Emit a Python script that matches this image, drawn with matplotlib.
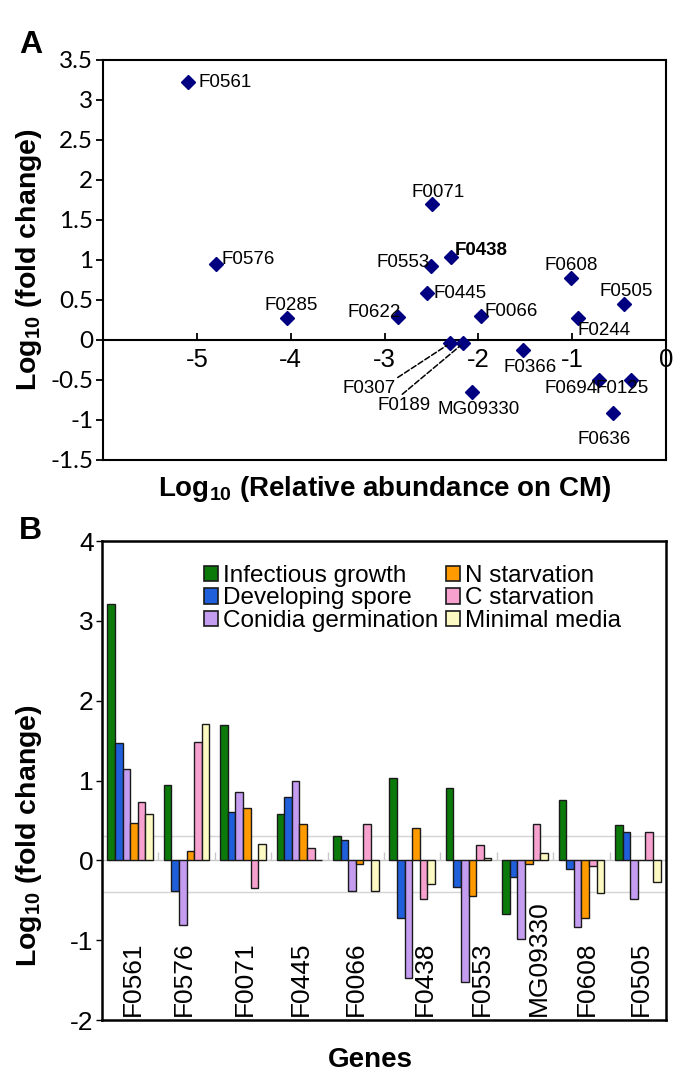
import numpy as np
import matplotlib
matplotlib.use('Agg')
import matplotlib.pyplot as plt
from matplotlib.patches import Patch
from matplotlib.ticker import FuncFormatter

plt.rcParams['font.family'] = ['Liberation Sans', 'DejaVu Sans']
plt.rcParams['axes.unicode_minus'] = False
plt.rcParams['mathtext.fontset'] = 'custom'
plt.rcParams['mathtext.rm'] = 'Liberation Sans'
plt.rcParams['mathtext.bf'] = 'Liberation Sans:bold'
plt.rcParams['mathtext.default'] = 'bf'

# panel A data
scatter_genes = ['F0561', 'F0576', 'F0285', 'F0622', 'F0071', 'F0553', 'F0438', 'F0445', 'F0066',
                 'F0608', 'F0505', 'F0244', 'F0307', 'F0189', 'F0366', 'MG09330', 'F0694', 'F0125', 'F0636']
abundance = [-5.09, -4.80, -4.04, -2.86, -2.49, -2.51, -2.29, -2.55, -1.97,
             -1.01, -0.45, -0.94, -2.30, -2.16, -1.52, -2.07, -0.71, -0.37, -0.56]
fold_change = [3.22, 0.95, 0.28, 0.29, 1.70, 0.93, 1.04, 0.59, 0.30,
               0.77, 0.45, 0.27, -0.04, -0.04, -0.12, -0.65, -0.50, -0.50, -0.91]

# panel B data
genes = ['F0561', 'F0576', 'F0071', 'F0445', 'F0066', 'F0438', 'F0553', 'MG09330', 'F0608', 'F0505']
infectious = [3.21, 0.94, 1.69, 0.58, 0.30, 1.03, 0.91, -0.67, 0.75, 0.44]
developing = [1.47, -0.39, 0.61, 0.79, 0.26, -0.72, -0.34, -0.21, -0.11, 0.36]
conidia = [1.15, -0.81, 0.85, 0.99, -0.39, -1.47, -1.53, -0.98, -0.84, -0.49]
n_starv = [0.47, 0.12, 0.66, 0.46, -0.04, 0.41, -0.45, -0.05, -0.72, 0.0]
c_starv = [0.73, 1.48, -0.35, 0.15, 0.45, -0.48, 0.19, 0.46, -0.07, 0.35]
minimal = [0.58, 1.71, 0.21, 0.0, -0.39, -0.30, 0.03, 0.09, -0.41, -0.27]
ref_lines = [0.3, -0.4]

series = [infectious, developing, conidia, n_starv, c_starv, minimal]
series_names = ['Infectious growth', 'Developing spore', 'Conidia germination',
                'N starvation', 'C starvation', 'Minimal media']
colors = ['#0b7a0b', '#1f5fdc', '#c49cf0', '#ff9a00', '#f7a1cf', '#fdf9c2']

# label offsets (pixels) for panel A
offsets = {'F0561': (37, 0), 'F0576': (33, 4), 'F0285': (4, 12), 'F0622': (-23, 4),
           'F0071': (6, 11), 'F0553': (-27, 3), 'F0438': (30, 6), 'F0445': (33, -1),
           'F0066': (30, 4), 'F0608': (0, 13), 'F0505': (2, 12), 'F0244': (26, -12),
           'F0366': (7, -18), 'MG09330': (7, -18), 'F0694': (-28, -9), 'F0125': (-9, -9),
           'F0636': (-9, -27)}
leader = {'F0307': ((-3.16, -0.61), (0.95, 1.0)), 'F0189': ((-2.79, -0.82), (0.4, 1.0))}
label_nudge = [0.04, -0.05, 0.04, 0.02, 0.0, 0.22, 0.23, 0.25, 0.09, 0.05]

fig = plt.figure(figsize=(6.85, 10.78), dpi=100)

# ---------------- A ----------------
ax = fig.add_axes([0.1504, 0.5733, 0.8219, 0.3711])
ax.plot(abundance, fold_change, 'D', color='#000080', markersize=6.8, zorder=3)
ax.set_xlim(-6, 0)
ax.set_ylim(-1.5, 3.5)
ax.set_yticks(np.arange(-1.5, 3.51, 0.5))
ax.yaxis.set_major_formatter(FuncFormatter(lambda v, p: f'{v:g}'))
ax.tick_params(axis='y', direction='out', length=5, width=1.3, labelsize=17.5, pad=2)
for t in ax.get_yticklabels():
    t.set_fontfamily('Lato')
ax.tick_params(axis='x', bottom=False, labelbottom=False)
for s in ax.spines.values():
    s.set_linewidth(1.5)

sec = ax.secondary_xaxis(1.5 / 5.0)
sec.set_xticks([-5, -4, -3, -2, -1, 0])
sec.xaxis.set_major_formatter(FuncFormatter(lambda v, p: f'{v:g}'))
sec.tick_params(direction='in', length=5, width=1.3, labelsize=18.5, pad=6)
sec.spines['bottom'].set_linewidth(1.5)

for name, x, y in zip(scatter_genes, abundance, fold_change):
    if name in offsets:
        dx, dy = offsets[name]
        ax.annotate(name, (x, y), xytext=(dx, dy), textcoords='offset pixels',
                    ha='center', va='center', fontsize=13.5,
                    fontweight='bold' if name == 'F0438' else 'normal')
    else:
        pos, rel = leader[name]
        ax.annotate(name, (x, y), xytext=pos, textcoords='data', ha='center', va='center',
                    fontsize=13.5,
                    arrowprops=dict(arrowstyle='-', linestyle='--', color='black', lw=1.1,
                                    relpos=rel, shrinkA=0, shrinkB=3))

ax.set_xlabel('Log$_{10}$ (Relative abundance on CM)', fontsize=20, fontweight='bold')
ax.xaxis.set_label_coords(0.5, -0.035)
ax.set_ylabel('Log$_{10}$ (fold change)', fontsize=20.5, fontweight='bold')
ax.yaxis.set_label_coords(-0.105, 0.5)
fig.text(0.028, 0.972, 'A', fontsize=23, fontweight='bold', va='top')

# ---------------- B ----------------
bx = fig.add_axes([0.1489, 0.0538, 0.8234, 0.4443])
idx = np.arange(len(genes))
w = 0.135
for j, (vals, col, nm) in enumerate(zip(series, colors, series_names)):
    bx.bar(idx + (j - 2.5) * w, vals, w, color=col, edgecolor='#1a1a1a', linewidth=1.0,
           label=nm, zorder=3)
for r in ref_lines:
    bx.axhline(r, color='#d4d4d4', lw=1, zorder=1)
bx.set_xlim(-0.5, len(genes) - 0.5)
bx.set_ylim(-2, 4)
bx.set_yticks(np.arange(-2, 4.1, 1))
bx.yaxis.set_major_formatter(FuncFormatter(lambda v, p: f'{v:g}'))
bx.tick_params(axis='y', direction='out', length=4, width=1.0, labelsize=19, pad=2)
bx.tick_params(axis='x', bottom=False, labelbottom=False)
for s in bx.spines.values():
    s.set_linewidth(1.8)

zero = bx.secondary_xaxis(2.0 / 6.0)
zero.set_xticks(idx[:-1] + 0.5)
zero.tick_params(direction='in', length=6, width=1.0, color='#c8c8c8', labelbottom=False)
zero.spines['bottom'].set_color('#c8c8c8')
zero.spines['bottom'].set_linewidth(1.0)

for i, g in enumerate(genes):
    bx.text(i + label_nudge[i], -1.95, g, rotation=90, ha='center', va='bottom', fontsize=19)

handles = [Patch(facecolor=c, edgecolor='#1a1a1a', linewidth=1.2) for c in colors]
bx.legend(handles, series_names, ncol=2, loc='upper left', bbox_to_anchor=(0.18, 0.95),
          frameon=False, fontsize=17.5, handlelength=0.6, handleheight=0.6,
          handletextpad=0.2, columnspacing=0.3, labelspacing=0.02, borderpad=0, borderaxespad=0)

bx.set_xlabel('Genes', fontsize=20, fontweight='bold')
bx.xaxis.set_label_coords(0.475, -0.056)
bx.set_ylabel('Log$_{10}$ (fold change)', fontsize=20.5, fontweight='bold')
bx.yaxis.set_label_coords(-0.103, 0.386)
fig.text(0.028, 0.521, 'B', fontsize=23, fontweight='bold', va='top')

fig.savefig('out.png', dpi=100)
